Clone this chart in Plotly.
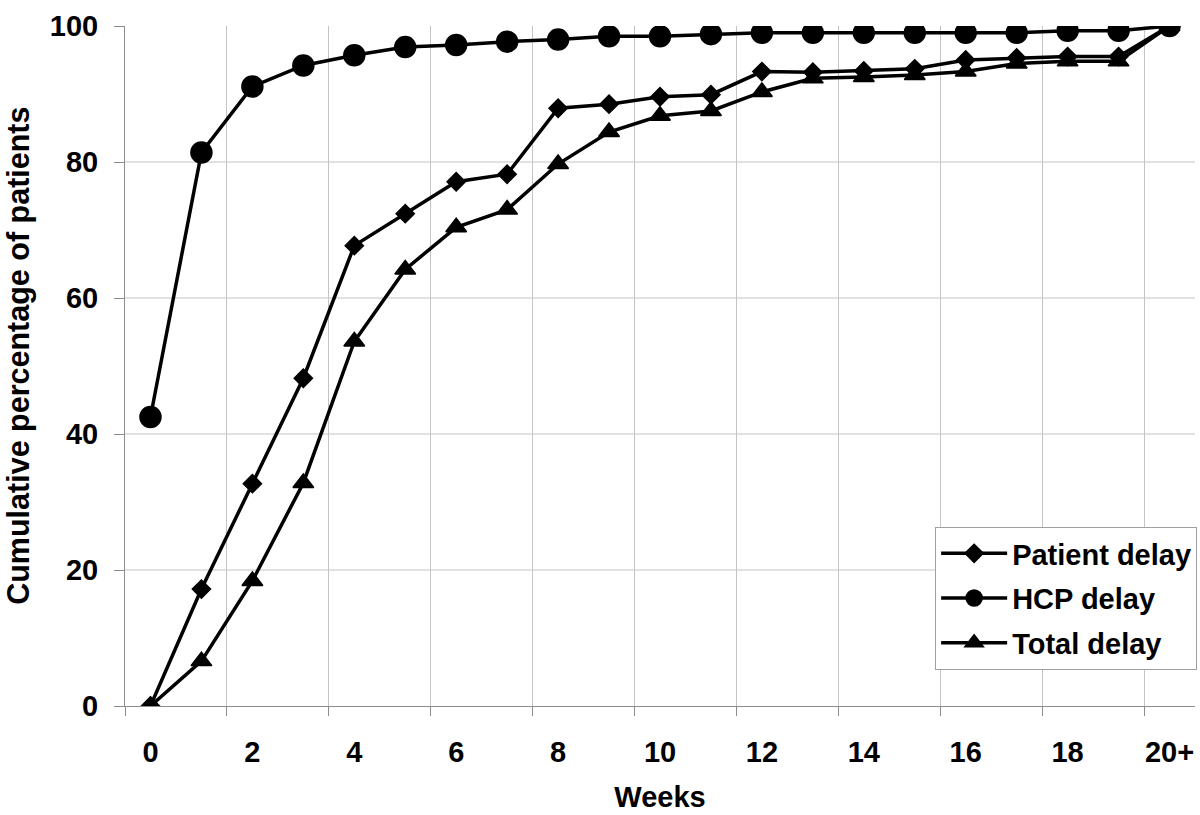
import plotly.graph_objects as go

weeks = [str(i) for i in range(20)] + ["20+"]
patient_delay = [0, 17.2, 32.7, 48.2, 67.7, 72.4, 77.1, 78.2, 87.9, 88.5, 89.6,
                 89.9, 93.3, 93.2, 93.4, 93.7, 95.0, 95.3, 95.5, 95.5, 100]
hcp_delay = [42.5, 81.4, 91.1, 94.2, 95.7, 96.9, 97.2, 97.7, 98.0, 98.5, 98.5,
             98.8, 99.0, 99.0, 99.0, 99.0, 99.0, 99.0, 99.3, 99.3, 100]
total_delay = [0, 6.6, 18.4, 32.8, 53.6, 64.2, 70.4, 73.0, 79.7, 84.4, 86.8,
               87.5, 90.3, 92.3, 92.5, 92.8, 93.3, 94.5, 94.8, 94.8, 100]
y_ticks = [0, 20, 40, 60, 80, 100]
y_grid = [20, 40, 60, 80]

FONT = "Liberation Sans, Arial, sans-serif"
fig = go.Figure()
series = [
    ("Patient delay", patient_delay, "diamond", 14),
    ("HCP delay", hcp_delay, "circle", 21),
    ("Total delay", total_delay, "triangle-up", 18),
]
for i, (name, vals, sym, sz) in enumerate(series):
    fig.add_trace(go.Scatter(
        x=weeks, y=vals, name=name, mode="lines+markers",
        line=dict(color="black", width=3.5),
        marker=dict(symbol=sym, size=sz, color="black", line=dict(color="black", width=1.5)),
        legendgroup=f"g{i}",
    ))

for g in y_grid:
    fig.add_shape(type="line", xref="paper", yref="y", x0=0, x1=1, y0=g, y1=g,
                  line=dict(color="#c4c4c4", width=1), layer="below")

fig.add_annotation(text="Cumulative percentage of patients", textangle=-90,
                   xref="paper", yref="paper", x=0, y=0.515, xshift=-106,
                   xanchor="center", yanchor="middle", showarrow=False,
                   font=dict(family=FONT, size=30.5, weight="bold", color="black"))

fig.update_layout(
    width=1200, height=815,
    margin=dict(l=125, r=3, t=26, b=109),
    plot_bgcolor="white", paper_bgcolor="white",
    font=dict(family=FONT, size=29, color="black"),
    showlegend=True,
    legend=dict(x=1.002, xanchor="right", y=0.053, yanchor="bottom",
                bgcolor="white", bordercolor="#a0a0a0", borderwidth=1,
                font=dict(family=FONT, size=29, color="black", weight="bold"),
                traceorder="grouped", tracegroupgap=4, itemwidth=66),
)
fig.update_xaxes(
    type="category", tickmode="linear", tick0=0, dtick=2, tickson="boundaries",
    showline=True, linecolor="#8c8c8c", linewidth=1,
    ticks="outside", ticklen=9, tickcolor="#8c8c8c",
    showgrid=True, gridcolor="#c4c4c4", gridwidth=1,
    range=[-0.5, 20.5], tickangle=0,
    tickfont=dict(family=FONT, size=29, weight="bold"),
    ticklabelstandoff=20,
    title=dict(text="Weeks", font=dict(family=FONT, size=29, weight="bold"), standoff=19),
)
fig.update_yaxes(
    range=[0, 100], tickvals=y_ticks,
    showline=True, linecolor="#8c8c8c", linewidth=1,
    ticks="outside", ticklen=10, tickcolor="#8c8c8c",
    showgrid=False, zeroline=False,
    tickfont=dict(family=FONT, size=29, weight="bold"),
    ticklabelstandoff=10,
)
fig.write_html("out.html", config={"displayModeBar": False},
               post_script="document.body.style.margin='0';document.body.style.overflow='hidden';")
